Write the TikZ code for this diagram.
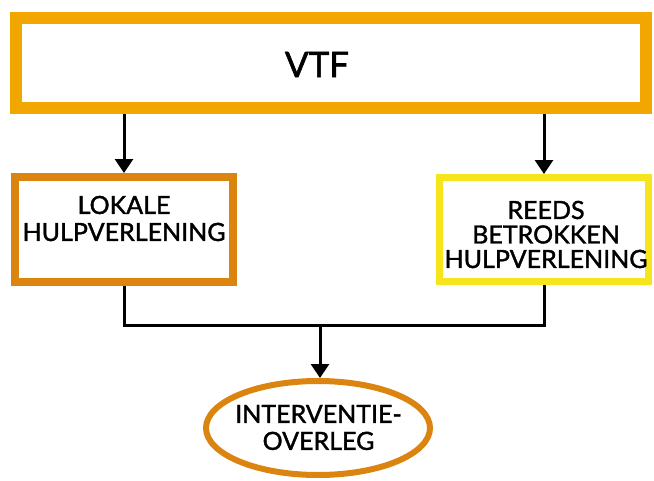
\documentclass[tikz,border=0pt]{standalone}
\usepackage{fontspec}
\setmainfont{Lato}[FakeBold=1.5]
\usetikzlibrary{arrows.meta,shapes.geometric}
\definecolor{vtforange}{HTML}{F2A600}
\definecolor{darkorange}{HTML}{DC8410}
\definecolor{boxyellow}{HTML}{F6E41C}
\tikzset{
  box/.style={draw, fill=white, rectangle, inner sep=0pt},
  label text/.style={inner sep=0pt, align=center, font=\fontsize{25}{27}\selectfont},
  conn/.style={line width=3pt, black},
  arrow/.style={conn, -{Triangle[length=14pt,width=18pt]}},
}
\begin{document}
\begin{tikzpicture}[x=1pt,y=-1pt]
\useasboundingbox (0,0) rectangle (654,480);
% boxes
\node[box, draw=vtforange, line width=12pt, minimum width=630pt, minimum height=90pt] (vtf) at (331,63) {};
\node[box, draw=darkorange, line width=8pt, minimum width=218pt, minimum height=105pt] (lok) at (124,229.5) {};
\node[box, draw=boxyellow, line width=7pt, minimum width=209pt, minimum height=104pt] (reeds) at (544,229.5) {};
\node[box, ellipse, draw=darkorange, line width=6pt, minimum width=224pt, minimum height=94pt] (ov) at (318,428) {};
% texts
\node[label text, font=\fontsize{35}{35}\selectfont] (vtfT) at (317,64.5) {VTF};
\node[label text] (lokT) at (124,218.5) {LOKALE\\HULPVERLENING};
\node[label text, font=\fontsize{25}{24.5}\selectfont] (reedsT) at (546,234.5) {REEDS\\BETROKKEN\\HULPVERLENING};
\node[label text] (ovT) at (318.5,427.5) {INTERVENTIE-\\OVERLEG};
% connectors
\coordinate (join) at (320,325);
\draw[arrow] (vtf.south -| lok) -- (lok.north);
\draw[arrow] (vtf.south -| reeds) -- (reeds.north);
\draw[conn] (lok.south) |- (join) -| (reeds.south);
\draw[arrow] (join) -- (join |- ov.north);
\end{tikzpicture}
\end{document}
